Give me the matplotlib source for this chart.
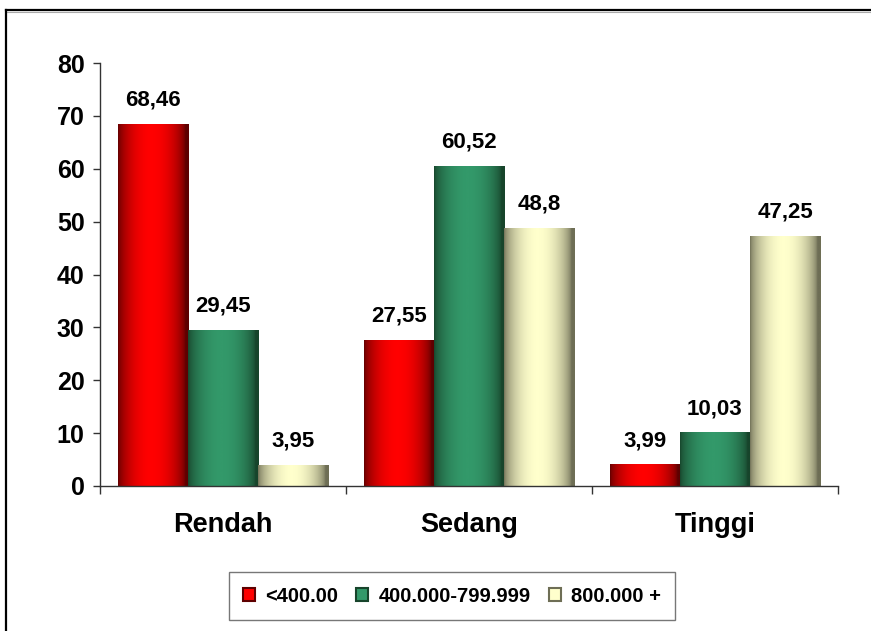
import numpy as np
import matplotlib
matplotlib.use('Agg')
import matplotlib.pyplot as plt
from matplotlib.colors import LinearSegmentedColormap
from matplotlib.patches import Patch
from matplotlib.lines import Line2D

plt.rcParams['font.family'] = ['Liberation Sans', 'DejaVu Sans']
plt.rcParams['font.weight'] = 'bold'

# data
categories = ['Rendah', 'Sedang', 'Tinggi']
series_names = ['<400.00', '400.000-799.999', '800.000 +']
low = [68.46, 27.55, 3.99]
mid = [29.45, 60.52, 10.03]
high = [3.95, 48.8, 47.25]
value_labels = [['68,46', '27,55', '3,99'],
                ['29,45', '60,52', '10,03'],
                ['3,95', '48,8', '47,25']]
yticks = [0, 10, 20, 30, 40, 50, 60, 70, 80]

# (edge colour, centre colour) for the shaded bars
shades = [('#5e0000', '#ff0000'),
          ('#17442b', '#33996a'),
          ('#6e6e55', '#ffffcc')]

fig = plt.figure(figsize=(8.71, 6.31), dpi=100)
ax = fig.add_axes([0.1148, 0.2298, 0.8472, 0.6702])

x = np.arange(len(categories))
w = 1 / 3.5
all_series = [low, mid, high]

t = np.linspace(0, 1, 200)
prof = np.clip(np.sin(np.pi * np.clip(t * 1.05, 0, 1)) ** 0.6, 0, 1)

for i, vals in enumerate(all_series):
    bars = ax.bar(x + (i - 1) * w, vals, w, color='none', edgecolor='none')
    cmap = LinearSegmentedColormap.from_list('s%d' % i, [shades[i][0], shades[i][1]])
    for b, lab in zip(bars, value_labels[i]):
        bx, by = b.get_x(), b.get_y()
        bw, bh = b.get_width(), b.get_height()
        ax.imshow(prof[np.newaxis, :], cmap=cmap, vmin=0, vmax=1, aspect='auto',
                  extent=(bx, bx + bw, by, by + bh), interpolation='bilinear', zorder=2)
        ax.annotate(lab, (bx + bw / 2, bh), xytext=(0, 10), textcoords='offset points',
                    ha='center', va='bottom', fontsize=16, fontweight='bold')

ax.set_xlim(-0.5, 2.5)
ax.set_ylim(0, 80)
ax.set_yticks(yticks)
ax.set_yticklabels([str(v) for v in yticks], fontsize=18, fontweight='bold')
ax.set_xticks(x)
ax.set_xticklabels(categories, fontsize=19.5, fontweight='bold')
ax.set_xticks([-0.5, 0.5, 1.5, 2.5], minor=True)
ax.tick_params(axis='x', which='major', length=0, pad=19)
ax.tick_params(axis='x', which='minor', length=6, width=1, color='#333333')
ax.tick_params(axis='y', length=5, width=1, color='#333333', pad=6)
for s in ['top', 'right']:
    ax.spines[s].set_visible(False)
for s in ['left', 'bottom']:
    ax.spines[s].set_color('#333333')
    ax.spines[s].set_linewidth(1)

handles = [Patch(facecolor=shades[i][1], edgecolor=shades[i][0], linewidth=1.5)
           for i in range(3)]
leg = fig.legend(handles, series_names, loc='center', bbox_to_anchor=(452 / 871, 1 - 596 / 631),
                 ncol=3, frameon=True, fancybox=False, edgecolor='#555555',
                 prop={'size': 14.5, 'weight': 'bold'}, handlelength=0.6, handleheight=0.6,
                 handletextpad=0.5, columnspacing=0.9, borderpad=0.7)
leg.get_frame().set_linewidth(1)

# outer frame (top and left edges with a light shadow)
fig.add_artist(Line2D([6 / 871, 1], [1 - 10 / 631, 1 - 10 / 631], color='black', lw=1.6))
fig.add_artist(Line2D([7 / 871, 1], [1 - 11.5 / 631, 1 - 11.5 / 631], color='#aaaaaa', lw=0.8))
fig.add_artist(Line2D([6 / 871, 6 / 871], [0, 1 - 10 / 631], color='black', lw=1.6))

fig.savefig('out.png', dpi=100)
